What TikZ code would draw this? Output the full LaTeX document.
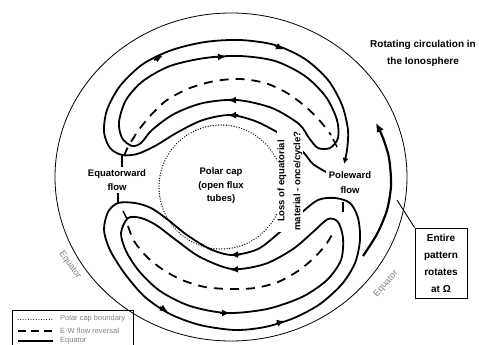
\documentclass[tikz,border=0pt]{standalone}
\usepackage{fontspec}
\setmainfont{Liberation Sans}
\usetikzlibrary{arrows.meta}

\begin{document}
\begin{tikzpicture}[x=1pt, y=-1pt, >=Latex]
    % Define styles
    \tikzstyle{flow} = [line width=1.8pt, line join=round]
    \tikzstyle{flowarr} = [line width=1.8pt, -{Latex[length=8pt,width=7pt]}]
    \tikzstyle{rev} = [line width=1.8pt, dash pattern=on 9pt off 7pt]
    \tikzstyle{capline} = [line width=1.4pt, dash pattern=on 0.01pt off 2.6pt, line cap=round]
    \tikzstyle{tick} = [line width=1.5pt]
    \tikzstyle{lbl} = [font=\fontsize{9.5}{14}\selectfont\bfseries, align=center, inner sep=1pt]
    \tikzstyle{eqlbl} = [font=\fontsize{9}{10}\selectfont, text=gray, inner sep=0pt]
    \tikzstyle{legtxt} = [font=\fontsize{7.5}{8}\selectfont, text=gray, anchor=west, inner sep=0pt]

    \useasboundingbox (0,0) rectangle (479,345);

    % Equator and polar cap
    \draw[line width=0.8pt] (231,177) ellipse [x radius=176, y radius=164];
    \draw[capline] (221,187) circle [radius=62];

    % Upper cell
    \draw[flow, -{Latex[length=6pt,width=6pt]}] plot[smooth] coordinates {(326,172) (313,164) (304,153) (292,141) (277,132) (255,121) (230,115) (203,120) (178,132) (155,146) (137,154) (122,155) (110,148) (104,132) (107,110) (120,86) (143,64) (172,50) (205,42) (240,40) (275,45) (305,59) (328,80) (342,105) (348,130) (347,150) (344,164)};
    \draw[flow] plot[smooth cycle] coordinates {(132,146) (122,138) (119,122) (126,100) (143,81) (170,66) (205,58) (240,56) (275,61) (305,76) (326,97) (337,120) (338,138) (330,148) (318,148) (309,138) (299,124) (272,108) (237,100) (203,103) (174,114) (152,130) (141,143)};
    \draw[rev] plot[smooth] coordinates {(124,156) (128,147) (138,131) (151,115) (167,100) (190,88) (215,81) (240,79) (265,83) (287,93) (306,107) (320,121) (331,135)};
    \draw[tick] (122,156) -- (122,167);
    \draw[tick] (333,139) -- (337,147);
    \draw[flowarr] (154,60) -- (163,55.5);
    \draw[flowarr] (274,45) -- (284,49.5);
    \draw[flowarr] (216,57) -- (226,56.6);
    \draw[flowarr] (238,100) -- (228,100.5);
    \draw[flowarr] (238,115) -- (228,115.5);

    % Lower cell
    \draw[flow] plot[smooth cycle] coordinates {(118,203) (135,203) (151,208) (167,219) (187,235) (210,249) (232,255) (258,249) (280,232) (300,214) (318,200) (335,198) (350,203) (358,218) (360,240) (355,263) (342,284) (320,304) (294,318) (265,327) (235,330) (200,325) (170,314) (145,297) (125,274) (110,250) (104,230) (108,212)};
    \draw[flow] plot[smooth cycle] coordinates {(128,218) (141,218) (156,225) (176,240) (200,257) (232,269) (265,264) (293,249) (313,232) (328,219) (338,222) (343,238) (341,260) (327,280) (302,297) (267,309) (227,313) (190,306) (160,291) (139,271) (126,251) (121,233)};
    \draw[rev] plot[smooth] coordinates {(128,226) (134,241) (146,256) (162,269) (182,280) (205,287) (230,289) (255,288) (278,282) (298,271) (315,257) (327,243) (334,231)};
    \draw[tick] (118,193) -- (118,203);
    \draw[tick] (123,211) -- (127,219);
    \draw[tick] (343,202) -- (343,212);
    \draw[flowarr] (240,254.5) -- (230,255);
    \draw[flowarr] (240,269) -- (230,270);
    \draw[flowarr] (220,313) -- (230,313);
    \draw[flowarr] (160,307) -- (168,312);
    \draw[flowarr] (276,323.5) -- (285,321);

    % Rotation of the whole pattern
    \draw[line width=2.2pt, -{Latex[length=9pt,width=8pt]}] plot[smooth] coordinates {(363,256) (377,234) (387,210) (391,185) (389,158) (383,138) (376,123)};

    % Labels
    \node[lbl] (eqw) at (117,180) {Equatorward\\flow};
    \node[lbl, font=\fontsize{9.5}{15}\selectfont\bfseries] (plw) at (350,183) {Poleward\\flow};
    \node[lbl, font=\fontsize{9.5}{13.5}\selectfont\bfseries] (cap) at (221,186) {Polar cap\\(open flux\\tubes)};
    \node[lbl, fill=white, rotate=90, font=\fontsize{9.5}{16}\selectfont\bfseries] (loss) at (290,181) {Loss of equatorial\\material - once/cycle?};
    \node[lbl, font=\fontsize{10}{17}\selectfont\bfseries] (title) at (423,53) {Rotating circulation in\\the Ionosphere};
    \node[lbl, draw, line width=0.9pt, minimum width=52pt, minimum height=70pt, font=\fontsize{10}{17}\selectfont\bfseries] (rot) at (441,263) {Entire\\pattern\\rotates\\at Ω};
    \draw[line width=0.9pt] (rot.north west) -- (397,200);
    \node[eqlbl, rotate=-55] (eqleft) at (70,265) {Equator};
    \node[eqlbl, rotate=48] (eqright) at (386,284) {Equator};

    % Legend
    \draw[line width=0.8pt] (12,310) rectangle (133,352);
    \draw[line width=1pt, dash pattern=on 0.01pt off 2.6pt, line cap=round] (18,319) -- (53,319);
    \draw[line width=1.4pt, dash pattern=on 8pt off 5pt] (18,331) -- (53,331);
    \draw[line width=1.4pt] (18,341) -- (53,341);
    \node[legtxt] (leg1) at (60,319) {Polar cap boundary};
    \node[legtxt] (leg2) at (60,331) {E-W flow reversal};
    \node[legtxt] (leg3) at (60,341) {Equator};
\end{tikzpicture}
\end{document}
